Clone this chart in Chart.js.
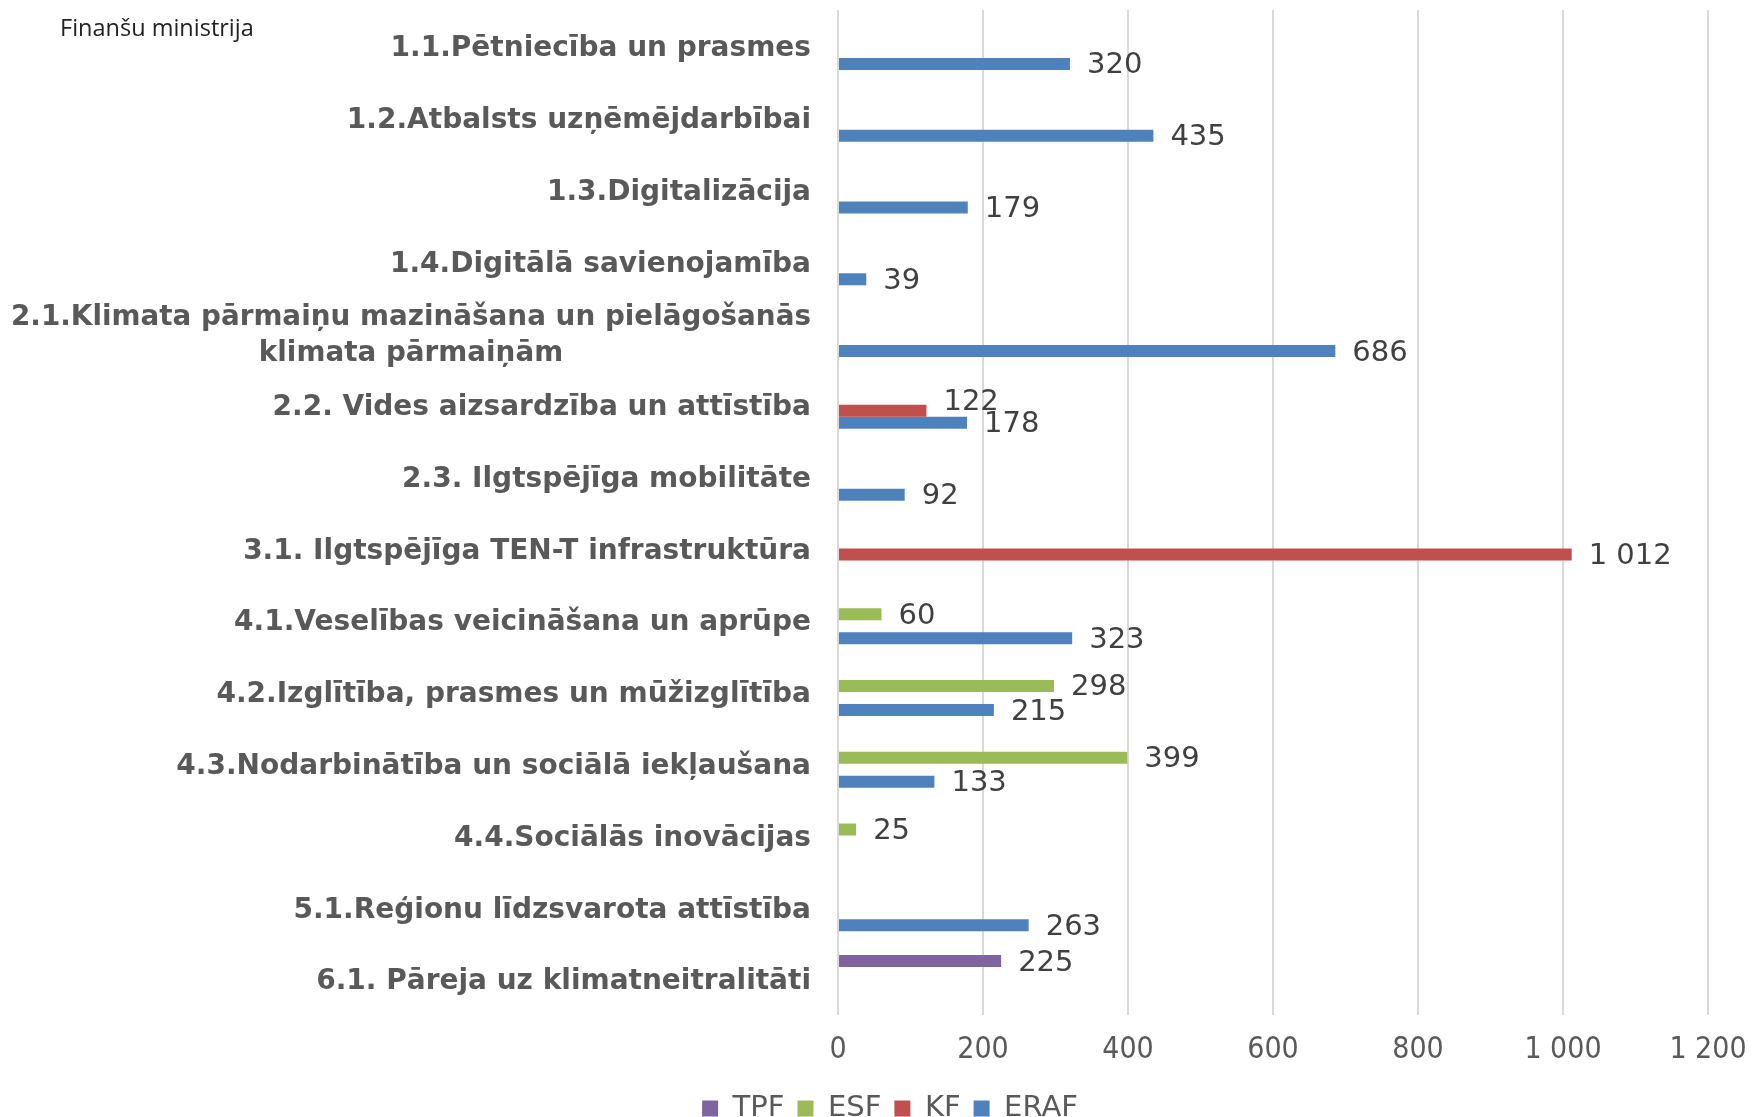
<!DOCTYPE html>
<html>
<head>
<meta charset="utf-8">
<script src="https://cdn.jsdelivr.net/npm/chart.js@4"></script>
<style>
  html, body { margin: 0; padding: 0; background: #fff; overflow: hidden; }
  #wrap { position: relative; width: 1752px; height: 1133px; }
  #logo { position: absolute; left: 60px; top: 11px; font: 23.5px 'Open Sans', sans-serif; color: #222; }
</style>
</head>
<body>
<div id="wrap">
  <canvas id="myChart"></canvas>
  <div id="logo">Finanšu ministrija</div>
</div>
<script>
const categories = [
  '1.1.Pētniecība un prasmes',
  '1.2.Atbalsts uzņēmējdarbībai',
  '1.3.Digitalizācija',
  '1.4.Digitālā savienojamība',
  ['2.1.Klimata pārmaiņu mazināšana un pielāgošanās', 'klimata pārmaiņām'],
  '2.2. Vides aizsardzība un attīstība',
  '2.3. Ilgtspējīga mobilitāte',
  '3.1. Ilgtspējīga TEN-T infrastruktūra',
  '4.1.Veselības veicināšana un aprūpe',
  '4.2.Izglītība, prasmes un mūžizglītība',
  '4.3.Nodarbinātība un sociālā iekļaušana',
  '4.4.Sociālās inovācijas',
  '5.1.Reģionu līdzsvarota attīstība',
  '6.1. Pāreja uz klimatneitralitāti'
]
const tpf  = [null, null, null, null, null, null, null, null, null, null, null, null, null, 225]
const esf  = [null, null, null, null, null, null, null, null, 60, 298, 399, 25, null, null]
const kf   = [null, null, null, null, null, 122, null, 1012, null, null, null, null, null, null]
const eraf = [320, 435, 179, 39, 686, 178, 92, null, 323, 215, 133, null, 263, null]
const xTicks = [0, 200, 400, 600, 800, 1000, 1200]

const fmt = v => String(v).replace(/\B(?=(\d{3})+(?!\d))/g, ' ')

const ctx = document.getElementById('myChart')

const catLabels = {
  id: 'catLabels',
  afterDraw(chart) {
    const c = chart.ctx
    const y = chart.scales.y
    const xRight = chart.chartArea.left - 27
    const maxW = 800
    const lineH = 36
    c.save()
    c.font = 'bold 28px "DejaVu Sans"'
    c.fillStyle = '#595959'
    c.textBaseline = 'middle'
    c.textAlign = 'center'
    categories.forEach((lab, i) => {
      const lines = Array.isArray(lab) ? lab : [lab]
      const cy = y.getPixelForTick(i) + 3
      const blockW = Math.max(...lines.map(l => c.measureText(l).width))
      const sx = Math.min(1, maxW / blockW)
      const cx = xRight - blockW * sx / 2
      lines.forEach((ln, k) => {
        const ly = cy + (k - (lines.length - 1) / 2) * lineH
        c.save()
        c.translate(cx, ly)
        c.scale(sx, 1)
        c.fillText(ln, 0, 0)
        c.restore()
      })
    })
    c.restore()
  }
}

const valueLabels = {
  id: 'valueLabels',
  afterDatasetsDraw(chart) {
    const c = chart.ctx
    const items = []
    chart.data.datasets.forEach((ds, di) => {
      const meta = chart.getDatasetMeta(di)
      meta.data.forEach((el, i) => {
        if (ds.data[i] == null) return
        items.push({ i, x: el.x + 17, y: el.y + 2, text: fmt(ds.data[i]) })
      })
    })
    // push overlapping labels of one category upward
    categories.forEach((_, i) => {
      const grp = items.filter(it => it.i === i).sort((a, b) => b.y - a.y)
      for (let k = 1; k < grp.length; k++) {
        if (grp[k - 1].y - grp[k].y < 22) grp[k].y = grp[k - 1].y - 22
      }
    })
    c.save()
    c.font = '29px "DejaVu Sans"'
    c.fillStyle = '#404040'
    c.textBaseline = 'middle'
    c.textAlign = 'left'
    items.forEach(it => c.fillText(it.text, it.x, it.y))
    c.restore()
  }
}

const chart = new Chart(ctx, {
  type: 'bar',
  data: {
    labels: categories,
    datasets: [
      { label: 'TPF', data: tpf, backgroundColor: '#8064A2' },
      { label: 'ESF', data: esf, backgroundColor: '#9BBB59' },
      { label: 'KF', data: kf, backgroundColor: '#C0504D' },
      { label: 'ERAF', data: eraf, backgroundColor: '#4F81BD' }
    ]
  },
  options: {
    indexAxis: 'y',
    responsive: true,
    maintainAspectRatio: false,
    animation: false,
    layout: { padding: { top: 10, left: 72, right: 44, bottom: 0 } },
    datasets: { bar: { categoryPercentage: 0.67, barPercentage: 1 } },
    scales: {
      x: {
        min: 0,
        max: 1200,
        afterBuildTicks: s => { s.ticks = xTicks.map(v => ({ value: v })) },
        afterFit: s => { s.paddingRight = 0; s.paddingLeft = 0; s.height -= 4 },
        grid: { color: '#d9d9d9', lineWidth: 2, drawTicks: false },
        border: { display: false },
        ticks: {
          padding: 17,
          color: '#595959',
          font: { family: "'DejaVu Sans Condensed', 'DejaVu Sans'", size: 30 },
          callback: v => fmt(v)
        }
      },
      y: {
        grid: { display: false },
        border: { display: false },
        ticks: { display: false },
        afterFit: s => { s.width = 766 }
      }
    },
    plugins: {
      tooltip: { enabled: false },
      legend: {
        position: 'bottom',
        labels: {
          boxWidth: 16,
          boxHeight: 16,
          padding: 13,
          color: '#595959',
          font: { family: "'DejaVu Sans'", size: 29 }
        }
      }
    }
  },
  plugins: [catLabels, valueLabels]
})
</script>
</body>
</html>
